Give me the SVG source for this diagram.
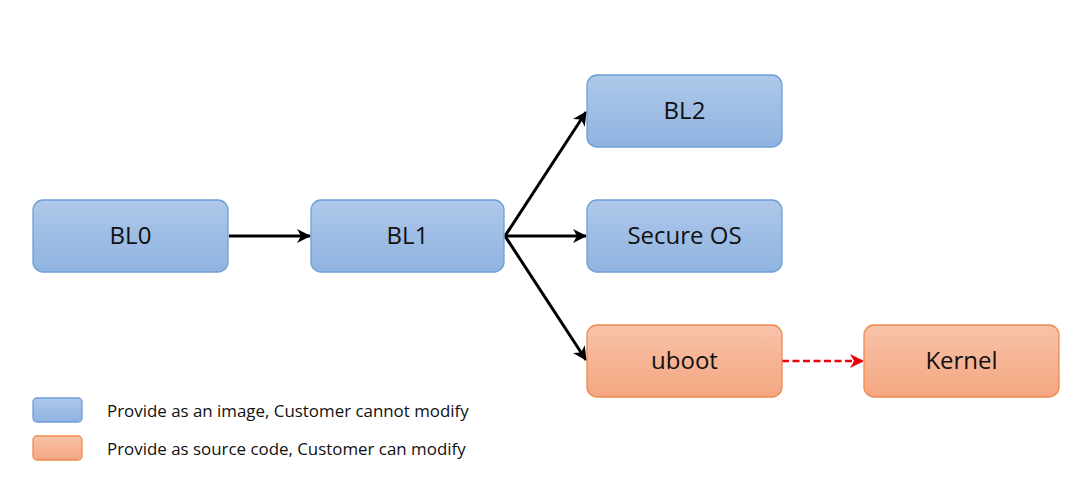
<svg xmlns="http://www.w3.org/2000/svg" width="1090" height="478" viewBox="0 0 1090 478">
<style>
.blue{fill:url(#gb);stroke:#6d9ed6;stroke-width:1.3}
.orange{fill:url(#go);stroke:#ee8a4f;stroke-width:1.3}
.lbl{font-family:"Open Sans","Liberation Sans",sans-serif;font-size:24px;fill:#111;text-anchor:middle;dominant-baseline:central}
.leg{font-family:"Open Sans","Liberation Sans",sans-serif;font-size:16.9px;fill:#111;dominant-baseline:central}
.conn{stroke:#000;stroke-width:3;fill:none}
.dash{stroke:#e8000b;stroke-width:2.6;fill:none;stroke-dasharray:7 3.5}
</style>
<defs>
<linearGradient id="gb" x1="0" y1="0" x2="0" y2="1"><stop offset="0" stop-color="#aec8e9"/><stop offset="1" stop-color="#8fb3e1"/></linearGradient>
<linearGradient id="go" x1="0" y1="0" x2="0" y2="1"><stop offset="0" stop-color="#f8c3a9"/><stop offset="1" stop-color="#f4a680"/></linearGradient>
<marker id="ab" viewBox="0 0 14 14" refX="13" refY="7" markerWidth="14" markerHeight="14" markerUnits="userSpaceOnUse" orient="auto"><path d="M0,0 L14,7 L0,14 L4,7 z" fill="#000"/></marker>
<marker id="ar" viewBox="0 0 14 14" refX="13" refY="7" markerWidth="14" markerHeight="14" markerUnits="userSpaceOnUse" orient="auto"><path d="M0,0 L14,7 L0,14 L4,7 z" fill="#e8000b"/></marker>
</defs>
<rect width="1090" height="478" fill="#fff"/>
<g id="connectors">
<line class="conn" x1="229" y1="236" x2="310" y2="236" marker-end="url(#ab)"/>
<line class="conn" x1="505" y1="236" x2="586" y2="112" marker-end="url(#ab)"/>
<line class="conn" x1="505" y1="236" x2="586" y2="236" marker-end="url(#ab)"/>
<line class="conn" x1="505" y1="236" x2="586" y2="360" marker-end="url(#ab)"/>
<line class="dash" x1="782" y1="361" x2="863" y2="361" marker-end="url(#ar)"/>
</g>
<g id="BL0"><rect class="blue" x="33" y="200" width="195" height="72" rx="10"/><text class="lbl" x="130.5" y="234.5">BL0</text></g>
<g id="BL1"><rect class="blue" x="311" y="200" width="193" height="72" rx="10"/><text class="lbl" x="407.5" y="234.5">BL1</text></g>
<g id="BL2"><rect class="blue" x="587" y="75" width="195" height="72" rx="10"/><text class="lbl" x="684.5" y="109.5">BL2</text></g>
<g id="SecureOS"><rect class="blue" x="587" y="200" width="195" height="72" rx="10"/><text class="lbl" x="684.5" y="234.5">Secure OS</text></g>
<g id="uboot"><rect class="orange" x="587" y="325" width="195" height="72" rx="10"/><text class="lbl" x="684.5" y="359.5">uboot</text></g>
<g id="Kernel"><rect class="orange" x="864" y="325" width="195" height="72" rx="10"/><text class="lbl" x="961.5" y="359.5">Kernel</text></g>
<g id="legend">
<rect class="blue" x="33" y="398" width="49" height="24" rx="4"/>
<text class="leg" x="107" y="410">Provide as an image, Customer cannot modify</text>
<rect class="orange" x="33" y="436" width="49" height="24" rx="4"/>
<text class="leg" x="107" y="448">Provide as source code, Customer can modify</text>
</g>
</svg>
